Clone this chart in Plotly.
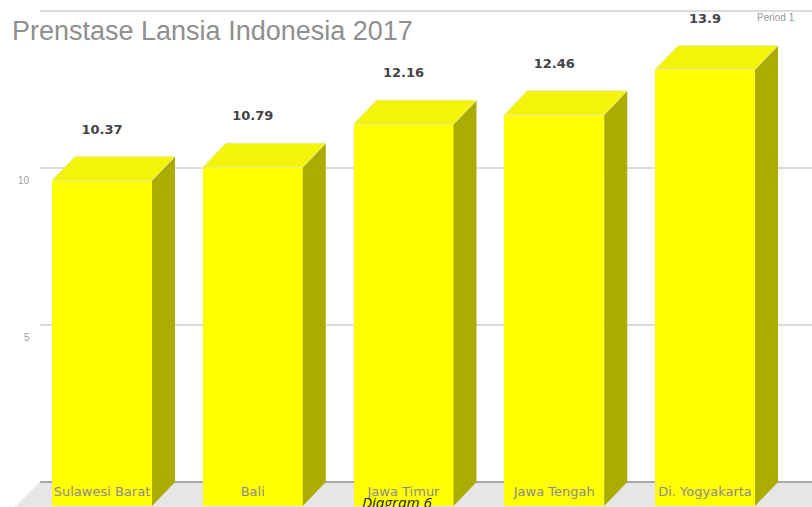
import plotly.graph_objects as go

# ---- data ----
categories = ["Sulawesi Barat", "Bali", "Jawa Timur", "Jawa Tengah", "Di. Yogyakarta"]
values = [10.37, 10.79, 12.16, 12.46, 13.9]
value_labels = ["10.37", "10.79", "12.16", "12.46", "13.9"]
y_ticks = [5, 10, 15]
y_tick_labels = ["5", "10", ""]
title_text = "Prenstase Lansia Indonesia 2017"
caption_text = "Diagram 6"
period_text = "Period 1"

# ---- geometry (pixel scale of the reference) ----
W, H = 812, 507
PX_PER_CAT = 150.75
PX_PER_UNIT = 31.4
FLOOR_PX = 482
X0 = -102 / PX_PER_CAT
X1 = X0 + W / PX_PER_CAT
Y_TOP = FLOOR_PX / PX_PER_UNIT
Y_BOT = -(H - FLOOR_PX) / PX_PER_UNIT
BAR_W = 100 / PX_PER_CAT
DX = 23 / PX_PER_CAT
DY = 24 / PX_PER_UNIT


def px_x(p):
    return X0 + p / PX_PER_CAT


xs = list(range(len(categories)))

fig = go.Figure()

# front faces
fig.add_trace(go.Bar(
    x=xs, y=values, base=[-DY] * len(values), width=BAR_W,
    marker=dict(color="#ffff00", line=dict(width=0)),
    hoverinfo="skip", showlegend=False,
))

# category labels (drawn before side faces so the sides can overlap)
fig.add_trace(go.Scatter(
    x=xs, y=[(FLOOR_PX - 493) / PX_PER_UNIT] * len(xs), mode="text",
    text=categories, textposition="middle center",
    textfont=dict(family="DejaVu Sans", size=13, color="#8c8c8c"),
    hoverinfo="skip", showlegend=False,
))

# side faces
sx, sy = [], []
for i, v in zip(xs, values):
    r = i + BAR_W / 2
    sx += [r, r + DX, r + DX, r, r, None]
    sy += [v - DY, v, 0, -DY, v - DY, None]
fig.add_trace(go.Scatter(
    x=sx, y=sy, mode="lines", fill="toself", fillcolor="#acac00",
    line=dict(width=0, color="#acac00"), hoverinfo="skip", showlegend=False,
))

# top faces
tx, ty = [], []
for i, v in zip(xs, values):
    l = i - BAR_W / 2
    r = i + BAR_W / 2
    tx += [l, r, r + DX, l + DX, l, None]
    ty += [v - DY, v - DY, v, v, v - DY, None]
fig.add_trace(go.Scatter(
    x=tx, y=ty, mode="lines", fill="toself", fillcolor="#f4f40a",
    line=dict(width=0.8, color="#e8e8b0"), hoverinfo="skip", showlegend=False,
))

# value labels
fig.add_trace(go.Scatter(
    x=xs, y=[v + 26 / PX_PER_UNIT for v in values], mode="text",
    text=value_labels, textposition="middle center",
    textfont=dict(family="DejaVu Sans", size=13, color="#444444", weight="bold"),
    hoverinfo="skip", showlegend=False,
))

shapes = []
# floor
shapes.append(dict(
    type="path", xref="x", yref="y", layer="below",
    path=f"M {px_x(40)},0 L {X1},0 L {X1},{Y_BOT} L {px_x(15)},{Y_BOT} Z",
    fillcolor="#e6e6e6", line=dict(width=0),
))
shapes.append(dict(
    type="line", xref="x", yref="y", layer="below",
    x0=px_x(40), x1=X1, y0=0, y1=0, line=dict(color="#a8a8a8", width=2),
))
# gridlines on the back wall
for t in y_ticks:
    shapes.append(dict(
        type="line", xref="x", yref="y", layer="below",
        x0=px_x(40), x1=X1, y0=t, y1=t, line=dict(color="#cfcfcf", width=1.5),
    ))

annotations = []
for t, lab in zip(y_ticks, y_tick_labels):
    if lab:
        annotations.append(dict(
            x=px_x(32), y=t - 12 / PX_PER_UNIT, xref="x", yref="y",
            text=lab, showarrow=False, xanchor="right",
            font=dict(family="Liberation Sans", size=10, color="#a0a0a0"),
        ))
annotations.append(dict(
    x=10 / W, y=1 - 31 / H, xref="paper", yref="paper", text=title_text,
    showarrow=False, xanchor="left", yanchor="middle",
    font=dict(family="Liberation Sans", size=27, color="#8f8f8f"),
))
annotations.append(dict(
    x=755 / W, y=1 - 18 / H, xref="paper", yref="paper", text=period_text,
    showarrow=False, xanchor="left", yanchor="middle",
    font=dict(family="Liberation Sans", size=10, color="#999999"),
))
annotations.append(dict(
    x=397 / W, y=1 - 502 / H, xref="paper", yref="paper", text="<i>" + caption_text + "</i>",
    showarrow=False, xanchor="center", yanchor="middle",
    font=dict(family="Open Sans", size=15, color="#222222"),
))

fig.update_layout(
    width=W, height=H,
    margin=dict(l=0, r=0, t=0, b=0),
    paper_bgcolor="white", plot_bgcolor="white",
    xaxis=dict(range=[X0, X1], visible=False, fixedrange=True),
    yaxis=dict(range=[Y_BOT, Y_TOP], visible=False, fixedrange=True),
    shapes=shapes, annotations=annotations,
    showlegend=False, bargap=0,
)

fig.write_html(
    "out.html",
    config={"displayModeBar": False},
    post_script="document.body.style.margin='0';document.body.style.overflow='hidden';",
)
